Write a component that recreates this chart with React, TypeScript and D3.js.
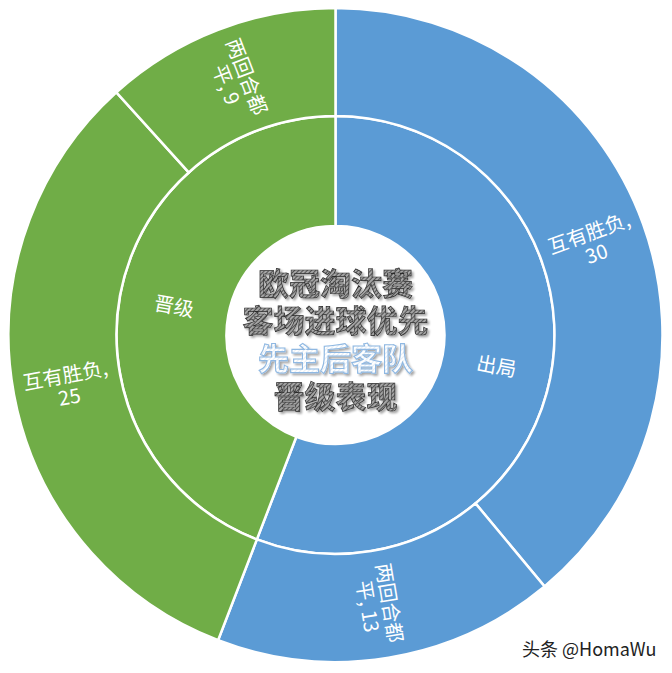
import React from "react";
import * as d3 from "d3";

const innerCategories = ["出局", "晋级"];
const outerCategories = ["互有胜负", "两回合都平", "互有胜负", "两回合都平"];
const outerParents = ["出局", "出局", "晋级", "晋级"];
const outerValues = [30, 13, 25, 9];
const titleLines = ["欧冠淘汰赛", "客场进球优先", "先主后客队", "晋级表现"];
const watermark = "头条 @HomaWu";

const W = 672;
const H = 673;
const cx = 335.5;
const cy = 335;
const colors: Record<string, string> = { 出局: "#5B9BD5", 晋级: "#70AD47" };
const FONT = "'Noto Sans CJK SC', 'Noto Sans', sans-serif";

type Node = { name: string; value?: number; children?: Node[] };

export default function App() {
  const rootData: Node = {
    name: "root",
    children: innerCategories.map((c) => ({
      name: c,
      children: outerCategories
        .map((n, i) => ({ name: n, value: outerValues[i], parent: outerParents[i] }))
        .filter((d) => d.parent === c)
        .map((d) => ({ name: d.name, value: d.value })),
    })),
  };
  const root = d3.hierarchy<Node>(rootData).sum((d) => d.value ?? 0);
  d3.partition<Node>().size([2 * Math.PI, 3])(root);
  const rScale = d3.scaleLinear().domain([1, 2, 3]).range([109, 219, 327]);
  const arc = d3
    .arc<any>()
    .startAngle((d) => d.x0)
    .endAngle((d) => d.x1)
    .innerRadius((d) => rScale(d.y0))
    .outerRadius((d) => rScale(d.y1));

  const nodes = root.descendants().filter((d) => d.depth > 0);
  const colorOf = (d: any) => colors[d.depth === 1 ? d.data.name : d.parent.data.name];

  const labelLines = (d: any): string[] => {
    if (d.depth === 1) return [d.data.name];
    const name: string = d.data.name;
    if (name.length > 4) return [name.slice(0, 4), name.slice(4) + ", " + d.value];
    return [name + ",", String(d.value)];
  };

  const titleY = d3.scaleLinear().domain([0, 3]).range([281, 394]);

  return (
    <div style={{ position: "fixed", left: 0, top: 0, width: W, height: H, background: "#fff" }}>
      <svg width={W} height={H} style={{ display: "block" }}>
        <defs>
          <pattern id="hatch" patternUnits="userSpaceOnUse" width="3" height="3" patternTransform="rotate(45)">
            <rect width="3" height="3" fill="#a4a4a4" />
            <line x1="0" y1="0" x2="0" y2="3" stroke="#2e2e2e" strokeWidth="1.4" />
          </pattern>
          <pattern id="hatchBlue" patternUnits="userSpaceOnUse" width="3" height="3" patternTransform="rotate(45)">
            <rect width="3" height="3" fill="#ffffff" />
            <line x1="0" y1="0" x2="0" y2="3" stroke="#c9dcf0" strokeWidth="1" />
          </pattern>
          <filter id="shadow" x="-10%" y="-20%" width="130%" height="150%">
            <feGaussianBlur in="SourceAlpha" stdDeviation="1.2" />
            <feOffset dx="2" dy="2" result="b" />
            <feComponentTransfer>
              <feFuncA type="linear" slope="0.35" />
            </feComponentTransfer>
            <feMerge>
              <feMergeNode />
              <feMergeNode in="SourceGraphic" />
            </feMerge>
          </filter>
        </defs>
        <rect width={W} height={H} fill="#fff" />
        <g transform={`translate(${cx},${cy})`}>
          {nodes.map((d, i) => (
            <path key={i} d={arc(d) as string} fill={colorOf(d)} stroke="#fff" strokeWidth={2.5} />
          ))}
          <circle r={rScale(1)} fill="#fff" />
          {nodes.map((d: any, i) => {
            const a = (d.x0 + d.x1) / 2;
            const deg = (a * 180) / Math.PI;
            const r = (rScale(d.y0) + rScale(d.y1)) / 2;
            const x = Math.sin(a) * r;
            const y = -Math.cos(a) * r;
            const rot = deg > 180 ? deg + 90 : deg - 90;
            const lines = labelLines(d);
            const lh = 22;
            return (
              <g key={"l" + i} transform={`translate(${x},${y}) rotate(${rot})`}>
                {lines.map((t, j) => (
                  <text
                    key={j}
                    x={0}
                    y={(j - (lines.length - 1) / 2) * lh}
                    textAnchor="middle"
                    dominantBaseline="central"
                    fill="#fff"
                    fontSize={20}
                    fontFamily={FONT}
                  >
                    {t}
                  </text>
                ))}
              </g>
            );
          })}
        </g>
        <g filter="url(#shadow)">
          {titleLines.map((t, i) => (
            <text
              key={i}
              x={cx}
              y={titleY(i)}
              textAnchor="middle"
              dominantBaseline="central"
              fontSize={31}
              fontWeight="bold"
              fontFamily={FONT}
              fill={i === 2 ? "url(#hatchBlue)" : "url(#hatch)"}
              stroke={i === 2 ? "#8fb8e2" : "#2a2a2a"}
              strokeWidth={i === 2 ? 1.1 : 0.7}
            >
              {t}
            </text>
          ))}
        </g>
        <text x={522} y={648} dominantBaseline="central" fontSize={18} fill="#222" fontFamily={FONT}>
          {watermark}
        </text>
      </svg>
    </div>
  );
}
